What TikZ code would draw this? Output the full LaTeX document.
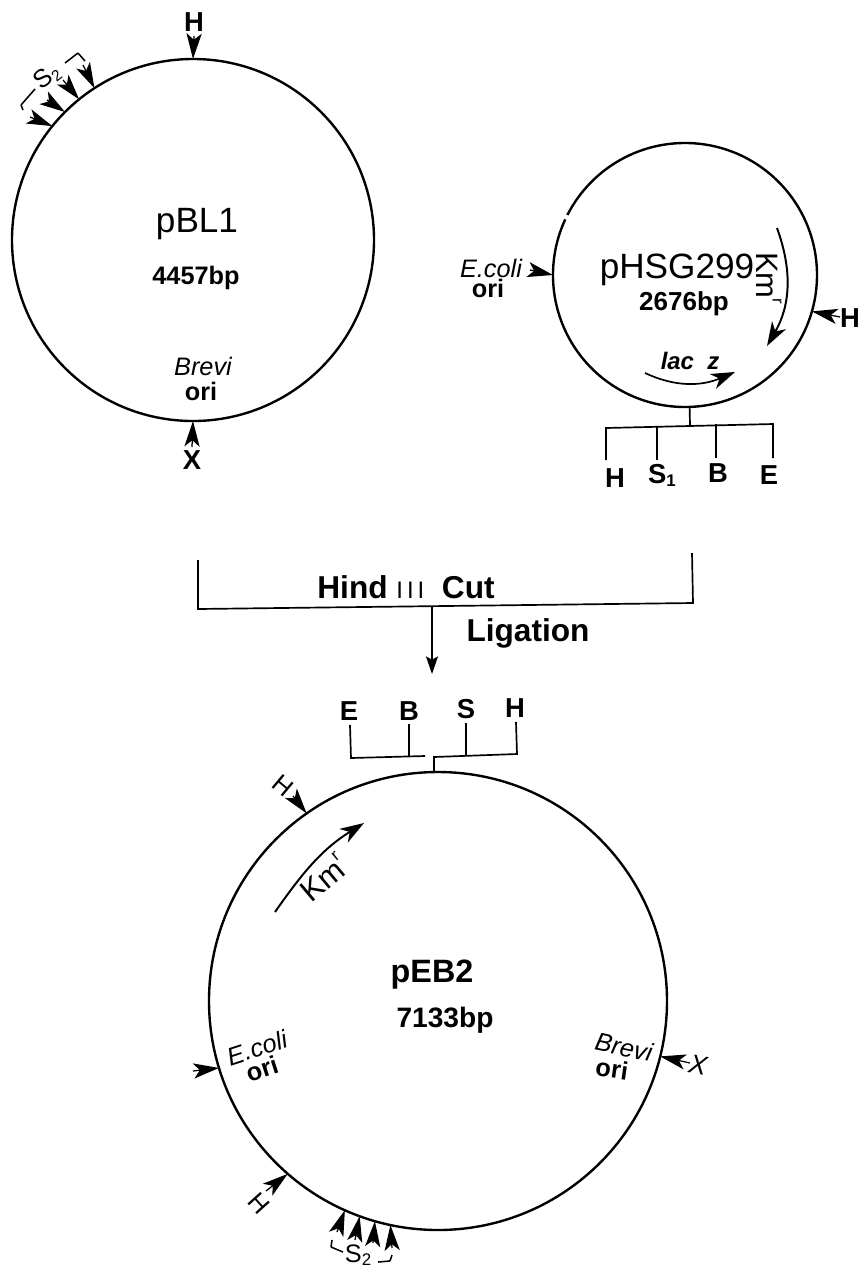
\documentclass[tikz,border=0pt]{standalone}
\usepackage{fontspec}
\setmainfont{Liberation Sans}
\usetikzlibrary{arrows.meta,positioning,calc}
\tikzset{
  plasmid/.style={circle,draw=black,line width=1.7pt,inner sep=0pt,outer sep=0pt},
  sitearrow/.style={line width=.9pt,black,-{Stealth[length=6.4mm,width=3.8mm,inset=1.6mm]}},
  genearrow/.style={line width=1.4pt,black,-{Stealth[length=6mm,width=4mm,inset=1.8mm]}},
  tree/.style={line width=1.2pt,black,line join=miter},
  bracket/.style={line width=1.1pt,black,rounded corners=.5pt},
  lab/.style={inner sep=1pt,font=\fontsize{19.5}{20}\selectfont\bfseries},
  labit/.style={inner sep=1pt,font=\fontsize{18}{20}\selectfont\itshape},
  kmlab/.style={inner sep=1pt,font=\fontsize{22}{24}\selectfont},
  platename/.style={inner sep=1pt,font=\fontsize{25}{28}\selectfont},
  bplab/.style={inner sep=1pt,font=\fontsize{18.5}{20}\selectfont\bfseries},
  cutlab/.style={inner sep=1pt,font=\fontsize{22.5}{24}\selectfont\bfseries}
}
\begin{document}
\begin{tikzpicture}[x=.25mm,y=-.25mm]
  \useasboundingbox (0,0) rectangle (860,1274);
  % pBL1
  \node[plasmid,minimum size=90.5mm] (pBL) at (193,240) {};
  \node[platename] (pBLname) at (197,224) {pBL1};
  \node[bplab,font=\fontsize{18}{20}\selectfont\bfseries] (pBLsize) at (196,278) {4457bp};
  \node[labit] (pBLbrevi) at (203,366) {Brevi};
  \node[lab,font=\fontsize{18}{20}\selectfont\bfseries] (pBLori) at (201,391) {ori};
  \node[lab] (pBLH) at (194,22) {H};
  \node[lab] (pBLX) at (192,460) {X};
  \coordinate (pBLt) at (194,36);
  \coordinate (pBLb) at (192,447);
  \draw[sitearrow] (pBLt) -- (pBL.north);
  \draw[sitearrow] (pBLb) -- (pBL.south);
  \coordinate (sA) at (30,117);
  \coordinate (sB) at (47,100);
  \coordinate (sC) at (63,80);
  \coordinate (sD) at (83,65);
  \draw[sitearrow] (sA) -- (pBL.141);
  \draw[sitearrow] (sB) -- (pBL.135);
  \draw[sitearrow] (sC) -- (pBL.129.5);
  \draw[sitearrow] (sD) -- (pBL.123);
  \node[lab,font=\fontsize{18}{20}\selectfont,rotate=38] (pBLs) at (47,77) {S\raisebox{-.2ex}{\fontsize{11}{12}\selectfont 2}};
  \draw[bracket] (23,110) -- (21,105) -- (35,89);
  \draw[bracket] (65,63) -- (78,53) -- (85,61);
  % pHSG299
  \node[plasmid,minimum size=66mm] (pHSG) at (685,275) {};
  \draw[white,line width=3pt] (pHSG.155.5) -- (pHSG.153.5);
  \node[platename] (pHSGname) at (677,270) {pHSG299};
  \node[bplab] (pHSGsize) at (684,304) {2676bp};
  \node[labit] (pHSGcoli) at (491,268) {E.coli};
  \node[lab,font=\fontsize{18}{20}\selectfont\bfseries] (pHSGori) at (488,288) {ori};
  \node[lab] (pHSGH) at (850,318) {H};
  \coordinate (pHSGe) at (530,270);
  \coordinate (pHSGh) at (840,317);
  \draw[sitearrow] (pHSGe) -- (pHSG.west);
  \draw[sitearrow] (pHSGh) -- (pHSG.-16);
  \coordinate (kmS) at (777,228);
  \coordinate (kmE) at (767,346);
  \draw[genearrow] (kmS) to[out=-70,in=60] (kmE);
  \node[kmlab,rotate=-90] (pHSGkm) at (769,278) {Km\raisebox{1ex}{\fontsize{12}{12}\selectfont r}};
  \node[labit,font=\fontsize{17}{20}\selectfont\itshape\bfseries] (pHSGlac) at (690,361) {lac\ \ z};
  \coordinate (lacS) at (645,373);
  \coordinate (lacE) at (735,372);
  \draw[genearrow,line width=1.2pt] (lacS) to[out=-25,in=203] (lacE);
  \coordinate (tH) at (606,428);
  \coordinate (tJ) at (690,425);
  \coordinate (tS) at (657,426);
  \coordinate (tB) at (716,424);
  \coordinate (tE) at (773,424);
  \node[lab] (hH) at (615,478) {H};
  \node[lab] (hS) at (662,475) {S\raisebox{-.2ex}{\fontsize{12}{12}\selectfont 1}};
  \node[lab] (hB) at (718,473) {B};
  \node[lab] (hE) at (769,475) {E};
  \draw[tree] (606,460) -- (tH) -- (tE) -- (773,458);
  \draw[tree] (tS) -- (657,460);
  \draw[tree] (tB) -- (716,458);
  \draw[tree] (tJ) -- (pHSG.-88);
  % cut and ligation
  \coordinate (cutL) at (198,560);
  \coordinate (cutR) at (692,553);
  \coordinate (cutM) at (432,606);
  \coordinate (ligE) at (432,674);
  \draw[tree] (cutL) -- (198,609) -- (693,603) -- (cutR);
  \draw[line width=1.2pt,-{Stealth[length=4.4mm,width=3mm,inset=.8mm]}] (cutM) -- (ligE);
  \node[cutlab] (cut) at (406,587) {Hind\ {\fontsize{17}{16}\selectfont\mdseries I\,I\,I}\ \ Cut};
  \node[cutlab] (lig) at (528,633) {Ligation};
  % pEB2
  \node[plasmid,minimum size=114.5mm] (pEB) at (438,1001) {};
  \node[platename,font=\fontsize{23}{28}\selectfont\bfseries] (pEBname) at (432,975) {pEB2};
  \node[bplab,font=\fontsize{20}{22}\selectfont\bfseries] (pEBsize) at (445,1020) {7133bp};
  \node[lab] (eE) at (349,711) {E};
  \node[lab] (eB) at (409,711) {B};
  \node[lab] (eS) at (466,709) {S};
  \node[lab] (eH) at (515,708) {H};
  \coordinate (jJ) at (434,757);
  \draw[tree] (350,725) -- (351,758) -- (425,756);
  \draw[tree] (409,724) -- (409,757);
  \draw[tree] (516,722) -- (517,754) -- (jJ) -- (pEB.91);
  \draw[tree] (466,723) -- (466,755);
  \node[lab,font=\fontsize{18}{20}\selectfont,rotate=-40] (pEBH) at (283,786) {H};
  \coordinate (pEBh) at (293,796);
  \draw[sitearrow] (pEBh) -- (pEB.125);
  \coordinate (kmA) at (275,912);
  \coordinate (kmB) at (364,823);
  \draw[genearrow] (kmA) to[out=55,in=212] (kmB);
  \node[kmlab,rotate=40] (pEBkm) at (323,877) {Km\raisebox{1ex}{\fontsize{12}{12}\selectfont r}};
  \node[labit,rotate=18] (pEBcoli) at (257,1048) {E.coli};
  \node[lab,font=\fontsize{18}{20}\selectfont\bfseries,rotate=18] (pEBori) at (262,1069) {ori};
  \coordinate (pEBe) at (193,1071);
  \draw[sitearrow] (pEBe) -- (pEB.197);
  \node[lab,font=\fontsize{18}{20}\selectfont,rotate=-48] (pEBHb) at (259,1203) {H};
  \coordinate (pEBg) at (266,1191);
  \draw[sitearrow] (pEBg) -- (pEB.229);
  \coordinate (uA) at (337,1232);
  \coordinate (uB) at (355,1240);
  \coordinate (uC) at (373,1243);
  \coordinate (uD) at (392,1248);
  \draw[sitearrow] (uA) -- (pEB.246);
  \draw[sitearrow] (uB) -- (pEB.250);
  \draw[sitearrow] (uC) -- (pEB.254);
  \draw[sitearrow] (uD) -- (pEB.258.7);
  \node[lab,font=\fontsize{18}{20}\selectfont] (pEBs) at (358,1255) {S\raisebox{-.2ex}{\fontsize{12}{12}\selectfont 2}};
  \draw[bracket] (332,1240) -- (331,1247) -- (343,1252);
  \draw[bracket] (378,1262) -- (390,1261) -- (392,1255);
  \node[labit,rotate=-12] (pEBbrevi) at (624,1047) {Brevi};
  \node[lab,font=\fontsize{18}{20}\selectfont\bfseries,rotate=-8] (pEBorib) at (612,1069) {ori};
  \node[lab,font=\fontsize{19}{20}\selectfont\itshape,rotate=-10] (pEBX) at (698,1065) {X};
  \coordinate (pEBx) at (690,1063);
  \draw[sitearrow] (pEBx) -- (pEB.-14);
\end{tikzpicture}
\end{document}
